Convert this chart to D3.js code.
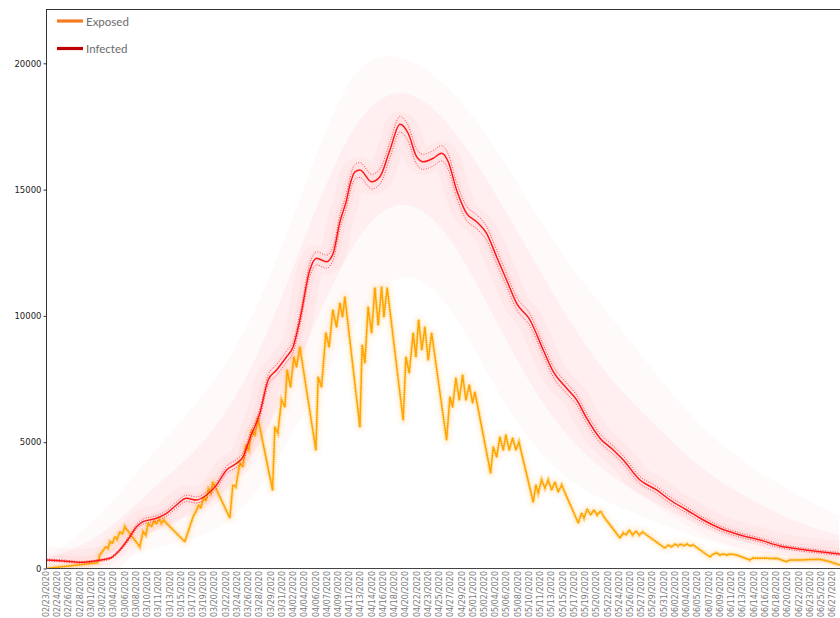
<!DOCTYPE html>
<html>
<head>
<meta charset="utf-8">
<script src="https://cdn.jsdelivr.net/npm/d3@7"></script>
<style>
html,body{margin:0;padding:0;background:#fff;}
svg{display:block;}
</style>
</head>
<body>
<svg id="chart" width="840" height="618"></svg>
<script>
// ---------- data ----------
const tickLabels = ["02/23/2020","02/24/2020","02/26/2020","02/28/2020","03/01/2020","03/02/2020","03/04/2020","03/06/2020","03/08/2020","03/10/2020","03/11/2020","03/13/2020","03/15/2020","03/17/2020","03/19/2020","03/20/2020","03/22/2020","03/24/2020","03/26/2020","03/28/2020","03/29/2020","03/31/2020","04/02/2020","04/04/2020","04/06/2020","04/07/2020","04/09/2020","04/11/2020","04/13/2020","04/14/2020","04/16/2020","04/18/2020","04/20/2020","04/22/2020","04/23/2020","04/25/2020","04/27/2020","04/29/2020","05/01/2020","05/02/2020","05/04/2020","05/06/2020","05/08/2020","05/10/2020","05/11/2020","05/13/2020","05/15/2020","05/17/2020","05/19/2020","05/20/2020","05/22/2020","05/24/2020","05/26/2020","05/27/2020","05/29/2020","05/31/2020","06/02/2020","06/04/2020","06/05/2020","06/07/2020","06/09/2020","06/11/2020","06/13/2020","06/14/2020","06/16/2020","06/18/2020","06/20/2020","06/22/2020","06/23/2020","06/25/2020","06/27/2020"];
const yTicks = [0, 5000, 10000, 15000, 20000];
const seriesNames = ["Exposed", "Infected"];

// days since 02/23/2020
const infectedDays = [0, 2.64, 5.3, 7.95, 10.07, 11.66, 13.25, 14.31, 15.36, 17.49,
  19.08, 20.67, 22.26, 23.85, 25.45, 27.04, 28.63, 30.22, 31.27, 32.33,
  33.92, 35.24, 36.58, 38.17, 39.22, 40.28, 41.87, 42.94, 44.53, 45.58,
  46.65, 47.71, 48.24, 49.04, 49.83, 51.69, 53.01, 54.6, 56.2, 57.5,
  58.84, 59.89, 61.48, 62.82, 63.87, 65.2, 66.79, 68.38, 69.97, 71.56,
  73.15, 74.75, 76.87, 78.98, 80.57, 82.7, 84.29, 85.88, 88.0, 90.11,
  91.7, 94.35, 97.01, 99.13, 101.78, 104.42, 107.08, 110.26, 113.44, 116.62,
  119.8, 122.98, 126.16];
const infectedMean = [336, 297, 245, 309, 404, 732, 1259, 1655, 1853, 1987,
  2185, 2514, 2779, 2712, 2910, 3306, 3900, 4165, 4427, 5155,
  6144, 7463, 7859, 8385, 8781, 9838, 11818, 12281, 12146, 12479,
  13720, 14590, 15180, 15700, 15777, 15314, 15512, 16568, 17590, 17230,
  16303, 16100, 16240, 16438, 16105, 14985, 14062, 13730, 13271, 12344,
  11422, 10499, 9838, 8650, 7791, 7134, 6675, 5950, 5158, 4691,
  4295, 3504, 3108, 2712, 2316, 1920, 1592, 1326, 1128, 891,
  760, 665, 574];
const infectedCI = [40, 40, 38, 40, 45, 60, 85, 95, 100, 105,
  110, 118, 124, 122, 126, 135, 148, 152, 158, 170,
  185, 205, 210, 216, 220, 234, 256, 262, 260, 264,
  276, 285, 290, 295, 296, 292, 294, 304, 312, 310,
  302, 300, 302, 304, 300, 288, 280, 277, 272, 262,
  252, 240, 234, 220, 208, 200, 194, 182, 170, 162,
  156, 140, 132, 124, 114, 104, 94, 86, 80, 70,
  65, 60, 56];

// spread of the simulated infected trajectories
const cloudDays = [0, 8.5, 16.4, 24.4, 32.3, 40.3, 48.3, 56.2, 64.2, 72.1, 80.1, 88, 96, 104, 112, 120, 126];
const cloudOuterHigh = [416, 1920, 4493, 6592, 9442, 14589, 20131, 20527, 19141, 16500, 13000, 10500, 8000, 5500, 4000, 2800, 2100];
const cloudInnerHigh = [376, 1128, 3108, 4691, 7463, 12609, 17756, 19340, 17756, 14589, 11026, 7859, 5879, 3900, 2712, 1722, 1326];
const cloudInnerLow  = [297, 257, 1524, 2118, 3900, 8254, 13004, 14985, 13400, 9442, 5879, 3900, 2712, 1603, 930, 614, 416];
const cloudOuterLow  = [257, 99, 812, 1128, 2316, 5879, 9442, 12213, 10630, 6671, 3900, 2712, 1920, 1128, 653, 416, 257];

const exposedDays = [0, 8.16, 8.48,
  9.43, 9.80, 10.07, 10.50, 10.86, 11.23, 11.66, 12.09, 12.45, 12.82,
  14.84, 15.36, 15.79, 16.16, 16.70, 17.06, 17.49, 17.91, 18.29, 18.65, 19.08,
  21.99, 23.31, 23.74, 24.17, 24.54, 24.97, 25.33, 25.76, 26.13, 26.45,
  29.15, 29.63, 30.11, 30.74, 31.22, 31.70, 32.17, 32.65, 33.13, 33.61,
  35.94, 36.31, 36.78, 37.37, 37.90, 38.26, 38.80, 39.33, 39.76, 40.28,
  42.83, 43.19, 43.73, 44.42, 44.94, 45.53, 46.12, 46.65, 47.07, 47.44,
  49.83, 50.19, 50.62, 51.14, 51.69, 52.21, 52.74, 53.28, 53.64, 54.17,
  56.71, 57.14, 57.67, 58.30, 58.73, 59.16, 59.68, 60.16, 60.69, 61.23,
  63.61, 64.14, 64.57, 65.09, 65.62, 66.16, 66.68, 67.21, 67.75, 68.11,
  70.61, 71.03, 71.57, 72.09, 72.62, 73.04, 73.57, 74.11, 74.63, 75.11,
  77.39, 77.81, 78.18, 78.72, 79.25, 79.77, 80.31, 80.84, 81.36, 81.90,
  84.54, 85.08, 85.45, 85.97, 86.51, 87.04, 87.56, 88.10, 88.63,
  91.18, 91.70, 92.13, 92.65, 93.19, 93.72, 94.24, 94.78, 95.42,
  98.33, 98.85, 99.39, 99.92, 100.40, 100.88, 101.35, 101.83, 102.30, 102.83,
  105.49, 105.97, 106.55, 107.08, 107.55, 108.19, 108.67, 109.73,
  111.85, 112.32, 113.44, 114.23, 115.03, 116.09,
  117.68, 118.21, 119.80, 121.39, 122.98, 124.57, 126.16];
const exposedMean = [0, 230, 534,
  863, 800, 1061, 998, 1259, 1156, 1457, 1366, 1655, 1524,
  863, 1457, 1326, 1789, 1655, 1892, 1762, 1948, 1789, 1920, 1789,
  1061, 2051, 2237, 2514, 2395, 2831, 2672, 3147, 2989, 3425,
  1999, 3306, 3227, 4177, 4018, 4889, 4691, 5483, 5245, 5958,
  3108, 5602, 5364, 6671, 6394, 7859, 7186, 8373, 7978, 8769,
  4691, 7582, 7186, 9324, 8769, 10234, 9561, 10511, 9957, 10749,
  5602, 8848, 8136, 10353, 9324, 11105, 9640, 11145, 9957, 11105,
  5879, 8373, 7740, 9324, 8373, 9838, 8650, 9561, 8254, 9324,
  5087, 6790, 6394, 7542, 6671, 7661, 6671, 7265, 6552, 6988,
  3781, 4810, 4414, 5206, 4691, 5285, 4691, 5166, 4691, 5008,
  2633, 3306, 2989, 3504, 3187, 3504, 3108, 3425, 3029, 3306,
  1801, 2197, 1999, 2356, 2118, 2316, 2118, 2276, 2039,
  1207, 1405, 1326, 1524, 1326, 1485, 1326, 1445, 1326,
  811, 930, 851, 970, 891, 970, 891, 970, 891, 930,
  455, 574, 614, 534, 574, 534, 574, 534,
  337, 416, 404, 416, 396, 404,
  269, 337, 337, 356, 364, 269, 139];

// ---------- layout ----------
(function draw() {
const W = 840, H = 618;
const padL = 46.5, padT = 9, baseY = 568.5, tickEnd = 832.7, frameRight = 880;
const parse = d3.timeParse("%m/%d/%Y");
const span = d3.timeDay.count(parse(tickLabels[0]), parse(tickLabels[tickLabels.length - 1]));

const x = d3.scaleLinear().domain([0, span]).range([padL, tickEnd]);
const y = d3.scaleLinear().domain([0, 22150]).range([baseY, padT]);

const svg = d3.select("#chart");
const defs = svg.append("defs");
defs.append("clipPath").attr("id", "plotclip")
  .append("rect").attr("x", padL).attr("y", padT).attr("width", frameRight - padL).attr("height", baseY - padT);

const plot = svg.append("g").attr("clip-path", "url(#plotclip)");

// infected trajectory cloud
const cloud = d3.zip(cloudDays, cloudOuterHigh, cloudInnerHigh, cloudInnerLow, cloudOuterLow);
const areaOuter = d3.area().curve(d3.curveBasis)
  .x(d => x(d[0])).y0(d => y(d[4])).y1(d => y(d[1]));
const areaInner = d3.area().curve(d3.curveBasis)
  .x(d => x(d[0])).y0(d => y(d[3])).y1(d => y(d[2]));
plot.append("path").datum(cloud).attr("d", areaOuter).attr("fill", "#ff3850").attr("opacity", 0.028);
plot.append("path").datum(cloud).attr("d", areaInner).attr("fill", "#ff3850").attr("opacity", 0.055);

const inf = d3.zip(infectedDays, infectedMean, infectedCI);
const exp = d3.zip(exposedDays, exposedMean);

const lineInf = d3.line().curve(d3.curveMonotoneX).x(d => x(d[0])).y(d => y(d[1]));
const lineInfHi = d3.line().curve(d3.curveMonotoneX).x(d => x(d[0])).y(d => y(d[1] + d[2]));
const lineInfLo = d3.line().curve(d3.curveMonotoneX).x(d => x(d[0])).y(d => y(d[1] - d[2]));
const lineExp = d3.line().curve(d3.curveLinear).x(d => x(d[0])).y(d => y(d[1]));

// red haze near the mean
plot.append("path").datum(inf).attr("d", lineInf).attr("fill", "none")
  .attr("stroke", "#ff3850").attr("stroke-width", 26).attr("stroke-opacity", 0.035).attr("stroke-linejoin", "round");
plot.append("path").datum(inf).attr("d", lineInf).attr("fill", "none")
  .attr("stroke", "#ff3850").attr("stroke-width", 12).attr("stroke-opacity", 0.04).attr("stroke-linejoin", "round");

// exposed haze
plot.append("path").datum(exp).attr("d", lineExp).attr("fill", "none")
  .attr("stroke", "#ffa500").attr("stroke-width", 12).attr("stroke-opacity", 0.045).attr("stroke-linejoin", "round");
plot.append("path").datum(exp).attr("d", lineExp).attr("fill", "none")
  .attr("stroke", "#ffa500").attr("stroke-width", 6).attr("stroke-opacity", 0.08).attr("stroke-linejoin", "round");
plot.append("path").datum(exp).attr("d", lineExp).attr("fill", "none")
  .attr("stroke", "#ffa500").attr("stroke-width", 3.4).attr("stroke-dasharray", "1,1.2").attr("stroke-opacity", 0.5);
plot.append("path").datum(exp).attr("d", lineExp).attr("fill", "none")
  .attr("stroke", "#ffa500").attr("stroke-width", 1.5).attr("stroke-linejoin", "round");

// infected CI + mean
[lineInfHi, lineInfLo].forEach(l => {
  plot.append("path").datum(inf).attr("d", l).attr("fill", "none")
    .attr("stroke", "#ff2020").attr("stroke-width", 1).attr("stroke-dasharray", "1,1.5").attr("stroke-opacity", 0.8);
});
plot.append("path").datum(inf).attr("d", lineInf).attr("fill", "none")
  .attr("stroke", "#ff1a1a").attr("stroke-width", 1.5);

// ---------- axes ----------
const axisColor = "#333";
svg.append("line").attr("x1", padL).attr("x2", W).attr("y1", padT + 0.5).attr("y2", padT + 0.5)
  .attr("stroke", axisColor).attr("stroke-width", 1);

const yAxis = svg.append("g").attr("transform", `translate(${padL},0)`)
  .call(d3.axisLeft(y).tickValues(yTicks).tickSize(3).tickFormat(d3.format("d")));
yAxis.select(".domain").attr("stroke", axisColor).attr("d", `M0,${padT}V${baseY}`);
yAxis.selectAll(".tick line").attr("stroke", axisColor);
yAxis.selectAll(".tick text").attr("font-family", "DejaVu Sans").attr("font-size", 8.5).attr("fill", "#222").attr("x", -5);

svg.append("line").attr("x1", padL).attr("x2", W).attr("y1", baseY).attr("y2", baseY)
  .attr("stroke", "#444").attr("stroke-width", 1.2);

const xt = svg.append("g").selectAll("g").data(tickLabels).join("g")
  .attr("transform", (d, i) => `translate(${x(i * span / (tickLabels.length - 1))},${baseY + 2.5}) rotate(-90)`);
xt.append("text").text(d => d)
  .attr("text-anchor", "end").attr("dominant-baseline", "central")
  .attr("font-family", "DejaVu Sans").attr("font-size", 8).attr("fill", "#7a7a7a");

// ---------- legend ----------
const legendColors = ["#f47b20", "#c00000"];
const leg = svg.append("g").selectAll("g").data(seriesNames).join("g")
  .attr("transform", (d, i) => `translate(57,${21 + i * 27.5})`);
leg.append("line").attr("x1", 0).attr("x2", 26).attr("y1", 0).attr("y2", 0)
  .attr("stroke", (d, i) => legendColors[i]).attr("stroke-width", 3.2);
leg.append("text").text(d => d).attr("x", 29).attr("y", 0).attr("dominant-baseline", "central")
  .attr("font-family", "Lato, 'Open Sans', sans-serif").attr("font-size", 11.5).attr("fill", "#6b6b6b");
})();
</script>
</body>
</html>
